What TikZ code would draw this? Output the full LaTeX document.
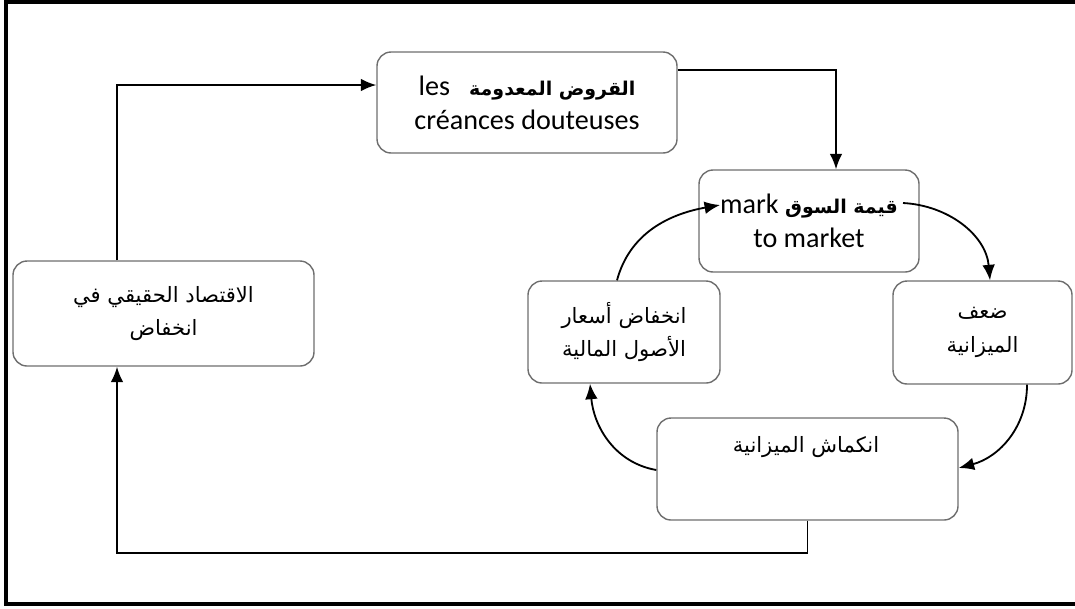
\documentclass[tikz,border=0pt]{standalone}
\usepackage{fontspec}
\setmainfont{Carlito}
\newfontfamily\arabicfont[Script=Arabic]{DejaVu Sans}
\TeXXeTstate=1
\usetikzlibrary{arrows.meta}
\definecolor{boxgray}{RGB}{110,110,110}
% Arabic runs, set right to left
\newcommand\artext[1]{{\arabicfont\fontsize{15}{24}\selectfont\beginR #1\endR}}
\newcommand\arbold[1]{{\arabicfont\bfseries\fontsize{13.5}{24}\selectfont\beginR #1\endR}}
\begin{document}
\begin{tikzpicture}[x=0.025cm,y=-0.025cm,
  box/.style={draw=boxgray, line width=1pt, rounded corners=10pt, fill=white,
    align=center, inner sep=0pt, font=\fontsize{20}{24}\selectfont},
  link/.style={line width=1.3pt, -{Latex[length=11pt,width=9pt]}},
  frame/.style={line width=2.2pt}]
\useasboundingbox (0,0) rectangle (1075,608);
% outer frame (open on the right)
\draw[frame] (1075,2) -- (6,2) -- (6,604) -- (1075,604);

% boxes
\node[box, minimum width=300*0.025cm, minimum height=101*0.025cm] (b1) at (527,102.5)
  {les~~~\arbold{القروض المعدومة}\\créances douteuses};
\node[box, minimum width=220*0.025cm, minimum height=102*0.025cm] (b2) at (809,221)
  {mark \arbold{قيمة السوق}\\to market};
\node[box, minimum width=301*0.025cm, minimum height=105*0.025cm] (b3) at (163.5,313.5)
  {\artext{الاقتصاد الحقيقي في}\\\artext{انخفاض}};
\node[box, minimum width=192*0.025cm, minimum height=102*0.025cm] (b4) at (624,332)
  {\artext{انخفاض أسعار}\\\artext{الأصول المالية}};
\node[box, minimum width=179*0.025cm, minimum height=103*0.025cm] (b5) at (982.5,332.5)
  {\artext{ضعف}\\\artext{الميزانية}};
\node[box, minimum width=301*0.025cm, minimum height=102*0.025cm] (b6) at (807.5,469) {};
\node[font=\fontsize{20}{24}\selectfont] (t6) at (806,447) {\artext{انكماش الميزانية}};

% routing points
\coordinate (c1) at (117,85);
\coordinate (c2) at (836,70);
\coordinate (c3) at (117,553);
\coordinate (c4) at (903,203);
\coordinate (c5) at (990,0);
\coordinate (c6) at (1027,0);
\coordinate (c7) at (0,468);
\coordinate (c8) at (0,470);
\coordinate (c9) at (590,0);
\coordinate (c10) at (617,0);
\coordinate (c11) at (720,205);

% straight connectors
\draw[link] (b3.north -| c1) -- (c1) -- (b1.west |- c1);
\draw[link] (b1.east |- c2) -- (c2) -- (b2.north -| c2);
\draw[link] (b6.south) -- (b6.south |- c3) -- (c3) -- (b3.south -| c3);

% inner cycle
\draw[link] (c4) to[out=-3,in=95] (b5.north -| c5);
\draw[link] (b5.south -| c6) to[out=-90,in=15] (b6.east |- c7);
\draw[link] (b6.west |- c8) to[out=170,in=-85] (b4.south -| c9);
\draw[link] (b4.north -| c10) to[out=75,in=190] (c11);
\end{tikzpicture}
\end{document}
